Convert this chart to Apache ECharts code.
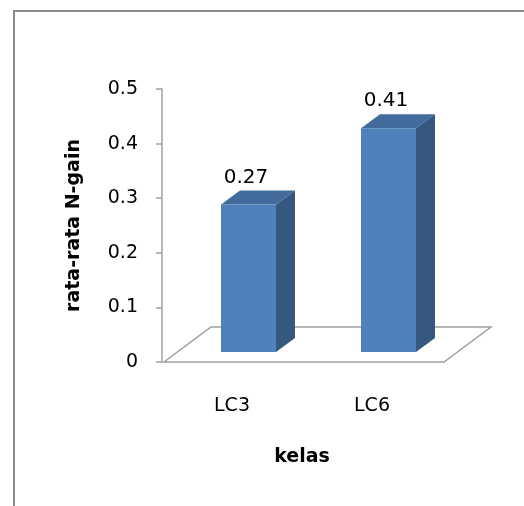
<!DOCTYPE html>
<html>
<head>
<meta charset="utf-8">
<script src="https://cdn.jsdelivr.net/npm/echarts@6/dist/echarts.min.js"></script>
<style>
  html, body { margin: 0; padding: 0; background: #fff; }
  #chart { width: 524px; height: 506px; }
</style>
</head>
<body>
<div id="chart"></div>
<script>
  // data
  const categories = ['LC3', 'LC6'];
  const gainValues = [0.27, 0.41];
  const yTicks = [0, 0.1, 0.2, 0.3, 0.4, 0.5];

  const font = '"DejaVu Sans", sans-serif';
  const frontColor = '#4f81bd';
  const sideColor = '#36587f';
  const topColor = '#416c9c';
  const greyLine = '#a0a0a0';

  // 3D bar: front face, side face, top face + value label
  function renderBar(params, api) {
    const cat = api.value(0);
    const v = api.value(1);
    const base = api.coord([cat, 0]);
    const top = api.coord([cat, v]);
    const x0 = base[0] - 11, x1 = base[0] + 44;
    const by = base[1] - 10, ty = top[1] - 10;
    const dx = 19, dy = -14;
    return {
      type: 'group',
      children: [
        { type: 'polygon', shape: { points: [[x1, by], [x1 + dx, by + dy], [x1 + dx, ty + dy], [x1, ty]] },
          style: { fill: sideColor } },
        { type: 'polygon', shape: { points: [[x0, ty], [x1, ty], [x1 + dx, ty + dy], [x0 + dx, ty + dy]] },
          style: { fill: topColor } },
        { type: 'rect', shape: { x: x0, y: ty, width: x1 - x0, height: by - ty },
          style: { fill: frontColor } },
        { type: 'text', style: { text: String(v), x: base[0] + 14, y: ty + dy - 13,
          textAlign: 'center', textVerticalAlign: 'middle', fill: '#000', fontSize: 20, fontFamily: font } }
      ]
    };
  }

  // floor of the 3D plot area
  function renderFloor(params, api) {
    const cs = params.coordSys;
    const y = api.coord([0, 0])[1];
    const l = cs.x + 2, r = cs.x + cs.width + 2;
    const ddx = 47, ddy = -35;
    return {
      type: 'polygon',
      shape: { points: [[l, y], [r, y], [r + ddx, y + ddy], [l + ddx, y + ddy]] },
      style: { fill: '#fff', stroke: greyLine, lineWidth: 1.5 }
    };
  }

  const chart = echarts.init(document.getElementById('chart'));
  chart.setOption({
    animation: false,
    backgroundColor: '#fff',
    graphic: [{
      type: 'rect', z: -10,
      shape: { x: 14, y: 11, width: 600, height: 600 },
      style: { fill: 'none', stroke: '#8c8c8c', lineWidth: 2 }
    }],
    grid: { left: 162, right: 82, top: 89, bottom: 144 },
    xAxis: {
      type: 'category',
      data: categories,
      name: 'kelas',
      nameLocation: 'middle',
      nameGap: 86,
      nameTextStyle: { fontSize: 19, fontWeight: 'bold', color: '#000', fontFamily: font },
      axisLine: { show: false },
      axisTick: { show: false },
      axisLabel: { margin: 35, fontSize: 19, color: '#000', fontFamily: font }
    },
    yAxis: {
      type: 'value',
      min: yTicks[0],
      max: yTicks[yTicks.length - 1],
      interval: 0.1,
      name: 'rata-rata N-gain',
      nameLocation: 'middle',
      nameGap: 78,
      nameTextStyle: { fontSize: 19, fontWeight: 'bold', color: '#000', fontFamily: font },
      axisLine: { show: true, lineStyle: { color: greyLine, width: 1.5 } },
      axisTick: { show: true, length: 6, lineStyle: { color: greyLine, width: 1.5 } },
      axisLabel: { margin: 24, fontSize: 19, color: '#000', fontFamily: font },
      splitLine: { show: false }
    },
    series: [
      {
        type: 'custom',
        renderItem: renderFloor,
        data: [[0, 0]],
        z: 1,
        silent: true
      },
      {
        type: 'custom',
        renderItem: renderBar,
        data: categories.map((c, i) => [i, gainValues[i]]),
        z: 2
      }
    ]
  });
</script>
</body>
</html>
